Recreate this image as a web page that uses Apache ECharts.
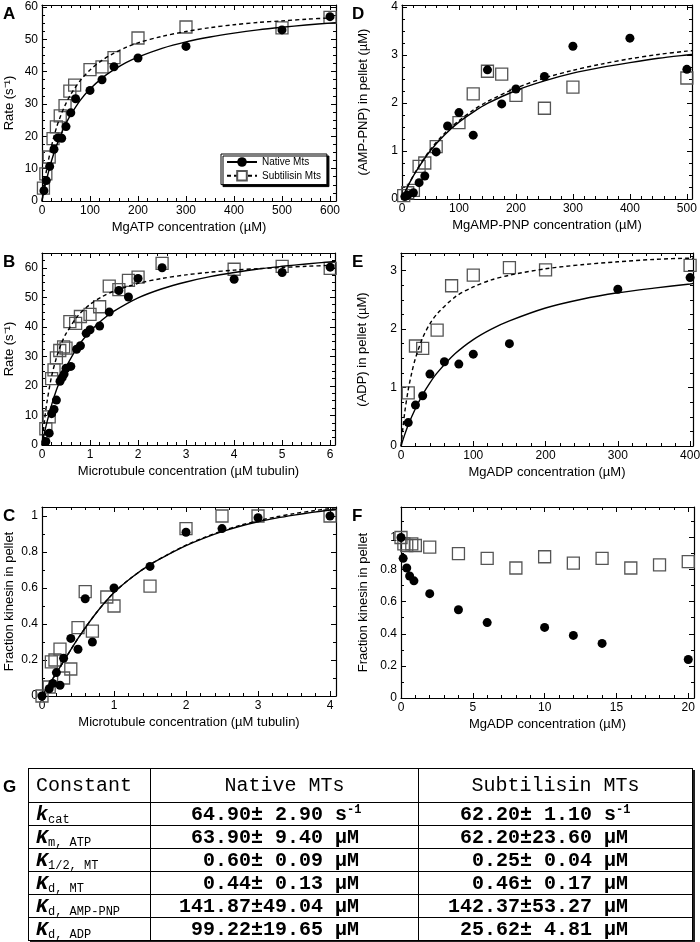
<!DOCTYPE html>
<html><head><meta charset="utf-8">
<script src="https://cdn.jsdelivr.net/npm/echarts@6/dist/echarts.min.js"></script>
<style>
html,body{margin:0;padding:0;background:#fff;}
#wrap{position:relative;width:700px;height:942px;overflow:hidden;}
#chart{position:absolute;left:0;top:0;width:700px;height:942px;}
#glabel{position:absolute;left:3px;top:777px;font:bold 17px "Liberation Sans",Arial,sans-serif;}
#tbl{position:absolute;left:28px;top:768px;width:664px;table-layout:fixed;border-collapse:collapse;border:1.5px solid #000;box-shadow:2px 2px 0 #222;font-family:"Liberation Mono","Courier New",monospace;color:#000;}
#tbl td{border:1px solid #000;padding:0;height:22px;line-height:19px;white-space:pre;overflow:hidden;}
#tbl tr.h td{height:33px;font-size:20px;}
#tbl td.c1{padding-left:7px;font-size:20px;}
#tbl tr.h td.c2,#tbl tr.h td.c3{text-align:center;}
#tbl td.v{font-size:20px;font-weight:bold;}
#tbl td.v2{padding-left:28px;}
#tbl td.v3{padding-left:29px;}
#tbl .kb{font-weight:bold;font-style:italic;font-size:20px;}
#tbl sub{font-size:12px;position:relative;top:3px;vertical-align:baseline;line-height:0;}
#tbl sup{font-size:12px;position:relative;top:-7px;vertical-align:baseline;line-height:0;}
</style></head><body>
<div id="wrap"><div id="chart"></div><div id="glabel">G</div>
<table id="tbl"><colgroup><col style="width:122px"><col style="width:268px"><col style="width:274px"></colgroup><tbody id="tbody"></tbody></table></div>
<script>
// ---------- Panel A: MgATP vs rate ----------
const atpNative = [[4,3.2],[9,6.3],[16,10.7],[25,16],[33,19.5],[41,19.4],[50,23],[60,27.3],[70,31.6],[100,34.2],[125,37.5],[150,41.5],[200,44.2],[300,47.8],[500,52.9],[600,57]];
const atpSub = [[3,4],[8,8.4],[15,13.6],[23,19.3],[30,22.9],[38,26.3],[48,29.5],[58,34],[68,35.8],[100,40.6],[125,41.5],[150,44.3],[200,50.4],[300,53.8],[500,53.5],[600,56.8]];
const atpNativeFit = [[0,0],[5,3.7],[10,6.9],[20,12.5],[30,17],[40,20.8],[50,24],[60,26.7],[80,31.2],[100,34.6],[125,38],[150,40.6],[175,42.8],[200,44.5],[250,47.2],[300,49.2],[350,50.7],[400,51.9],[450,52.9],[500,53.7],[550,54.4],[600,55],[612,55.1]];
const atpSubFit = [[0,0],[5,5.4],[10,10],[20,17.1],[30,22.6],[40,26.8],[50,30.2],[60,33],[80,37.3],[100,40.5],[125,43.5],[150,45.7],[175,47.5],[200,48.9],[250,50.9],[300,52.4],[350,53.6],[400,54.5],[450,55.2],[500,55.7],[550,56.2],[600,56.6],[612,56.7]];
const aXTicks = [0,100,200,300,400,500,600];
const aYTicks = [0,10,20,30,40,50,60];

// ---------- Panel B: microtubules vs rate ----------
const mtRateNative = [[0.08,1.2],[0.15,4],[0.2,10.6],[0.25,12],[0.3,15.2],[0.375,21.6],[0.42,22.8],[0.46,24],[0.5,26],[0.6,26.6],[0.72,32.4],[0.8,33.6],[0.92,37.8],[1.0,39],[1.2,40.3],[1.4,45],[1.6,52.3],[1.8,50.1],[2.0,56.4],[2.5,60],[4,56.1],[5,58.4],[6,60.2]];
const mtRateSub = [[0.08,5.5],[0.15,9.5],[0.2,22.5],[0.25,25.4],[0.3,29.5],[0.37,32],[0.45,33.2],[0.5,32.8],[0.58,41.8],[0.7,41.2],[0.8,43.5],[1.0,44.2],[1.2,46.8],[1.4,53.8],[1.6,52.6],[1.8,55.7],[2.0,56.8],[2.5,61.5],[4,59.5],[5,60.5],[6,59.8]];
const mtRateNativeFit = [[0,0],[0.05,4],[0.1,7.5],[0.2,13.6],[0.3,18.6],[0.4,22.8],[0.5,26.4],[0.75,33.4],[1,38.4],[1.25,42.3],[1.5,45.3],[2,49.8],[2.5,52.9],[3,55.2],[3.5,57],[4,58.4],[4.5,59.6],[5,60.5],[5.5,61.3],[6,62],[6.1,62.1]];
const mtRateSubFit = [[0,0],[0.05,8],[0.1,14.2],[0.2,23.3],[0.3,29.5],[0.4,34.2],[0.5,37.7],[0.75,43.8],[1,47.6],[1.25,50.2],[1.5,52.1],[2,54.7],[2.5,56.4],[3,57.6],[3.5,58.5],[4,59.2],[4.5,59.7],[5,60.1],[5.5,60.5],[6,60.8],[6.1,60.9]];
const bXTicks = [0,1,2,3,4,5,6];
const bYTicks = [0,10,20,30,40,50,60];

// ---------- Panel C: microtubules vs fraction bound ----------
const mtBindNative = [[0,0],[0.1,0.04],[0.15,0.07],[0.2,0.13],[0.25,0.06],[0.3,0.21],[0.4,0.32],[0.5,0.26],[0.6,0.54],[0.7,0.3],[1.0,0.6],[1.5,0.72],[2.0,0.91],[2.5,0.93],[3.0,0.99],[4.0,1.0]];
const mtBindSub = [[0,0],[0.1,0.05],[0.13,0.19],[0.18,0.2],[0.25,0.26],[0.3,0.1],[0.4,0.15],[0.5,0.38],[0.6,0.58],[0.7,0.36],[0.9,0.55],[1.0,0.5],[1.5,0.61],[2.0,0.93],[2.5,1.0],[3.0,1.0],[4.0,1.0]];
const mtBindNativeFit = [[0,0],[0.25,0.16],[0.5,0.32],[0.75,0.46],[1,0.575],[1.25,0.66],[1.5,0.73],[1.75,0.785],[2,0.835],[2.25,0.877],[2.5,0.913],[2.75,0.943],[3,0.968],[3.25,0.988],[3.5,1.005],[3.75,1.02],[4,1.033],[4.083,1.037]];
const mtBindSubFit = [[0,0],[0.25,0.16],[0.5,0.32],[0.75,0.46],[1,0.575],[1.25,0.66],[1.5,0.73],[1.75,0.787],[2,0.838],[2.25,0.88],[2.5,0.917],[2.75,0.948],[3,0.974],[3.25,0.995],[3.5,1.013],[3.75,1.028],[4,1.042],[4.083,1.046]];
const cXTicks = [0,1,2,3,4];
const cYTicks = [0,0.2,0.4,0.6,0.8,1];

// ---------- Panel D: MgAMP-PNP vs bound ----------
const pnpNative = [[5,0.05],[10,0.08],[20,0.13],[30,0.34],[40,0.48],[60,0.98],[80,1.52],[100,1.8],[125,1.33],[150,2.69],[175,1.98],[200,2.29],[250,2.55],[300,3.18],[400,3.35],[500,2.7]];
const pnpSub = [[3,0.07],[10,0.13],[20,0.18],[30,0.68],[40,0.75],[60,1.09],[100,1.59],[125,2.19],[150,2.66],[175,2.6],[200,2.16],[250,1.89],[300,2.33],[500,2.52]];
const pnpNativeFit = [[0,0],[10,0.26],[25,0.58],[50,1.01],[75,1.34],[100,1.6],[125,1.81],[150,1.99],[200,2.26],[250,2.46],[300,2.62],[350,2.74],[400,2.84],[450,2.93],[500,3.0],[509,3.01]];
const pnpSubFit = [[0,0],[10,0.26],[25,0.59],[50,1.03],[75,1.37],[100,1.63],[125,1.85],[150,2.03],[200,2.31],[250,2.52],[300,2.68],[350,2.81],[400,2.92],[450,3.01],[500,3.08],[509,3.09]];
const dXTicks = [0,100,200,300,400,500];
const dYTicks = [0,1,2,3,4];

// ---------- Panel E: MgADP vs bound ----------
const adpNative = [[10,0.4],[20,0.7],[30,0.86],[40,1.23],[60,1.44],[80,1.4],[100,1.57],[150,1.75],[300,2.68],[400,2.88]];
const adpSub = [[10,0.91],[20,1.71],[30,1.67],[50,1.98],[70,2.74],[100,2.92],[150,3.05],[200,3.01],[400,3.09]];
const adpNativeFit = [[0,0],[5,0.19],[10,0.36],[20,0.64],[30,0.88],[40,1.08],[50,1.25],[75,1.58],[100,1.82],[125,2.0],[150,2.14],[200,2.36],[250,2.51],[300,2.62],[350,2.7],[400,2.77],[404,2.78]];
const adpSubFit = [[0,0],[5,0.56],[10,0.96],[15,1.26],[20,1.5],[30,1.85],[40,2.09],[50,2.26],[75,2.55],[100,2.72],[125,2.84],[150,2.92],[200,3.03],[250,3.1],[300,3.15],[350,3.19],[400,3.21],[404,3.21]];
const eXTicks = [0,100,200,300,400];
const eYTicks = [0,1,2,3];

// ---------- Panel F: MgADP vs fraction bound ----------
const adpBindNative = [[0,1.0],[0.15,0.87],[0.4,0.81],[0.6,0.76],[0.9,0.73],[2,0.65],[4,0.55],[6,0.47],[10,0.44],[12,0.39],[14,0.34],[20,0.24]];
const adpBindSub = [[0,1.0],[0.2,0.96],[0.4,0.95],[0.75,0.96],[1,0.95],[2,0.94],[4,0.9],[6,0.87],[8,0.81],[10,0.88],[12,0.84],[14,0.87],[16,0.81],[18,0.83],[20,0.85]];
const fXTicks = [0,5,10,15,20];
const fYTicks = [0,0.2,0.4,0.6,0.8,1];

// ---------- Table G ----------
const constBase = ['k','K','K','K','K','K'];
const constSub = ['cat','m, ATP','1/2, MT','d, MT','d, AMP-PNP','d, ADP'];
const nativeMean = ['64.90','63.90','0.60','0.44','141.87','99.22'];
const nativeErr = ['2.90','9.40','0.09','0.13','49.04','19.65'];
const subMean = ['62.20','62.20','0.25','0.46','142.37','25.62'];
const subErr = ['1.10','23.60','0.04','0.17','53.27','4.81'];
const valueUnits = ['s<sup>-1</sup>','µM','µM','µM','µM','µM'];
const tableHeaders = ['Constant','Native MTs','Subtilisin MTs'];

// ---------- build table ----------
(function(){
  const fmt = (m,e,u) => m.padStart(6,' ') + '±' + e.padStart(5,' ') + ' ' + u;
  let html = '<tr class="h"><td class="c1">'+tableHeaders[0]+'</td><td class="c2">'+tableHeaders[1]+'</td><td class="c3">'+tableHeaders[2]+'</td></tr>';
  for (let i=0;i<constBase.length;i++){
    html += '<tr><td class="c1"><span class="kb">'+constBase[i]+'</span><sub>'+constSub[i]+'</sub></td>'+
      '<td class="c2 v v2">'+fmt(nativeMean[i],nativeErr[i],valueUnits[i])+'</td>'+
      '<td class="c3 v v3">'+fmt(subMean[i],subErr[i],valueUnits[i])+'</td></tr>';
  }
  document.getElementById('tbody').innerHTML = html;
})();

// ---------- chart ----------
const FONT = 'Liberation Sans';
const grids = [
  {left:42, top:5,   width:294, height:196},
  {left:42, top:253, width:293, height:192},
  {left:42, top:507, width:294, height:189},
  {left:402,top:5,   width:290, height:194},
  {left:401,top:253, width:292, height:193},
  {left:401,top:507, width:293, height:191}
];
const ranges = [
  {x:[0,612.5], y:[0,60.6], xt:aXTicks, yt:aYTicks, xs:20,  ys:2.5,  xn:'MgATP concentration (µM)', yn:'Rate (s⁻¹)'},
  {x:[0,6.1],   y:[0,65],   xt:bXTicks, yt:bYTicks, xs:0.2, ys:2.5,  xn:'Microtubule concentration (µM tubulin)', yn:'Rate (s⁻¹)'},
  {x:[0,4.083], y:[0,1.05], xt:cXTicks, yt:cYTicks, xs:0.2, ys:0.1,  xn:'Microtubule concentration (µM tubulin)', yn:'Fraction kinesin in pellet'},
  {x:[0,509],   y:[0,4.04], xt:dXTicks, yt:dYTicks, xs:20,  ys:0.25, xn:'MgAMP-PNP concentration (µM)', yn:'(AMP-PNP) in pellet (µM)'},
  {x:[0,404],   y:[0,3.3],  xt:eXTicks, yt:eYTicks, xs:20,  ys:0.25, xn:'MgADP concentration (µM)', yn:'(ADP) in pellet (µM)'},
  {x:[0,20.4],  y:[0,1.19], xt:fXTicks, yt:fYTicks, xs:1,   ys:0.1,  xn:'MgADP concentration (µM)', yn:'Fraction kinesin in pellet'}
];
const yNameGap = [26,26,26,32,32,31];

function minorVals(min,max,step,majors){
  const out=[];
  for(let i=0;;i++){
    const v=+(min+i*step).toFixed(6);
    if(v>max+1e-9) break;
    if(!majors.some(m=>Math.abs(m-v)<1e-9)) out.push(v);
  }
  return out;
}
const lbl = v => String(+(+v).toFixed(3));
const tickLine = {color:'#000', width:1};

const xAxes=[], yAxes=[];
ranges.forEach((r,gi)=>{
  const xm = minorVals(r.x[0], r.x[1], r.xs, r.xt);
  const ym = minorVals(r.y[0], r.y[1], r.ys, r.yt);
  const bx = {type:'value', gridIndex:gi, min:r.x[0], max:r.x[1], splitLine:{show:false}, minorTick:{show:false}};
  const by = {type:'value', gridIndex:gi, min:r.y[0], max:r.y[1], splitLine:{show:false}, minorTick:{show:false}};
  xAxes.push(Object.assign({}, bx, {position:'bottom', name:r.xn, nameLocation:'middle', nameGap:20,
    nameTextStyle:{fontFamily:FONT, fontSize:13, color:'#000'},
    axisLine:{show:true, onZero:false, lineStyle:{color:'#000', width:1.2}},
    axisTick:{show:true, inside:true, length:5, customValues:r.xt, lineStyle:tickLine},
    axisLabel:{show:true, customValues:r.xt, margin:4, color:'#000', fontFamily:FONT, fontSize:12, formatter:lbl}}));
  xAxes.push(Object.assign({}, bx, {position:'bottom', axisLine:{show:false, onZero:false},
    axisTick:{show:true, inside:true, length:3, customValues:xm, lineStyle:tickLine}, axisLabel:{show:false}}));
  xAxes.push(Object.assign({}, bx, {position:'top', axisLine:{show:true, onZero:false, lineStyle:{color:'#000', width:1.2}},
    axisTick:{show:true, inside:true, length:5, customValues:r.xt, lineStyle:tickLine}, axisLabel:{show:false}}));
  xAxes.push(Object.assign({}, bx, {position:'top', axisLine:{show:false, onZero:false},
    axisTick:{show:true, inside:true, length:3, customValues:xm, lineStyle:tickLine}, axisLabel:{show:false}}));
  yAxes.push(Object.assign({}, by, {position:'left', name:r.yn, nameLocation:'middle', nameGap:yNameGap[gi],
    nameTextStyle:{fontFamily:FONT, fontSize:13, color:'#000'},
    axisLine:{show:true, onZero:false, lineStyle:{color:'#000', width:1.2}},
    axisTick:{show:true, inside:true, length:5, customValues:r.yt, lineStyle:tickLine},
    axisLabel:{show:true, customValues:r.yt, margin:4, color:'#000', fontFamily:FONT, fontSize:12, formatter:lbl}}));
  yAxes.push(Object.assign({}, by, {position:'left', axisLine:{show:false, onZero:false},
    axisTick:{show:true, inside:true, length:3, customValues:ym, lineStyle:tickLine}, axisLabel:{show:false}}));
  yAxes.push(Object.assign({}, by, {position:'right', axisLine:{show:true, onZero:false, lineStyle:{color:'#000', width:1.2}},
    axisTick:{show:true, inside:true, length:5, customValues:r.yt, lineStyle:tickLine}, axisLabel:{show:false}}));
  yAxes.push(Object.assign({}, by, {position:'right', axisLine:{show:false, onZero:false},
    axisTick:{show:true, inside:true, length:3, customValues:ym, lineStyle:tickLine}, axisLabel:{show:false}}));
});

const squareStyle = {color:'rgba(255,255,255,0)', borderColor:'#555', borderWidth:1.3, opacity:1};
const series = [];
function addPanel(gi, nat, sub, natFit, subFit){
  const ax = {xAxisIndex:gi*4, yAxisIndex:gi*4};
  series.push(Object.assign({type:'scatter', name:'sq'+gi, data:sub, symbol:'rect', symbolSize:12, itemStyle:squareStyle, z:2, silent:true}, ax));
  series.push(Object.assign({type:'scatter', name:'ci'+gi, data:nat, symbol:'circle', symbolSize:9, itemStyle:{color:'#000', opacity:1}, z:3, silent:true}, ax));
  if(natFit) series.push(Object.assign({type:'line', name:'fn'+gi, data:natFit, smooth:0.3, showSymbol:false, symbol:'none', lineStyle:{color:'#000', width:1.4}, z:4, silent:true}, ax));
  if(subFit) series.push(Object.assign({type:'line', name:'fs'+gi, data:subFit, smooth:0.3, showSymbol:false, symbol:'none', lineStyle:{color:'#000', width:1.4, type:[4,3]}, z:4, silent:true}, ax));
}
addPanel(0, atpNative, atpSub, atpNativeFit, atpSubFit);
addPanel(1, mtRateNative, mtRateSub, mtRateNativeFit, mtRateSubFit);
addPanel(2, mtBindNative, mtBindSub, mtBindNativeFit, mtBindSubFit);
addPanel(3, pnpNative, pnpSub, pnpNativeFit, pnpSubFit);
addPanel(4, adpNative, adpSub, adpNativeFit, adpSubFit);
addPanel(5, adpBindNative, adpBindSub, null, null);
series.push({type:'line', name:'Native Mts', xAxisIndex:0, yAxisIndex:0, data:[], symbol:'circle', symbolSize:9, itemStyle:{color:'#000'}, lineStyle:{color:'#000', width:1.4}});
series.push({type:'line', name:'Subtilisin Mts', xAxisIndex:0, yAxisIndex:0, data:[], symbol:'rect', symbolSize:11, itemStyle:{color:'#fff', borderColor:'#555', borderWidth:1.3}, lineStyle:{color:'#000', width:1.4, type:[4,3]}});

const letters = [['A',3,6],['B',3,254],['C',3,508],['D',352,6],['E',352,254],['F',352,508]];

const option = {
  animation:false,
  backgroundColor:'#fff',
  textStyle:{fontFamily:FONT},
  grid: grids.map(g=>Object.assign({outerBoundsMode:'none', containLabel:false}, g)),
  xAxis: xAxes,
  yAxis: yAxes,
  legend:{data:['Native Mts','Subtilisin Mts'], orient:'vertical', left:221, top:154, itemWidth:30, itemHeight:12, itemGap:3,
    padding:[3,6,3,5], borderColor:'#000', borderWidth:1, backgroundColor:'#fff',
    shadowColor:'#000', shadowOffsetX:2, shadowOffsetY:2, shadowBlur:0,
    textStyle:{fontFamily:FONT, fontSize:10, color:'#000'}, selectedMode:false},
  graphic: letters.map(l=>({type:'text', left:l[1], top:l[2], silent:true, style:{text:l[0], font:'bold 17px "Liberation Sans"', fill:'#000'}})),
  series: series
};
const chart = echarts.init(document.getElementById('chart'), null, {renderer:'canvas'});
chart.setOption(option);
</script>
</body></html>
